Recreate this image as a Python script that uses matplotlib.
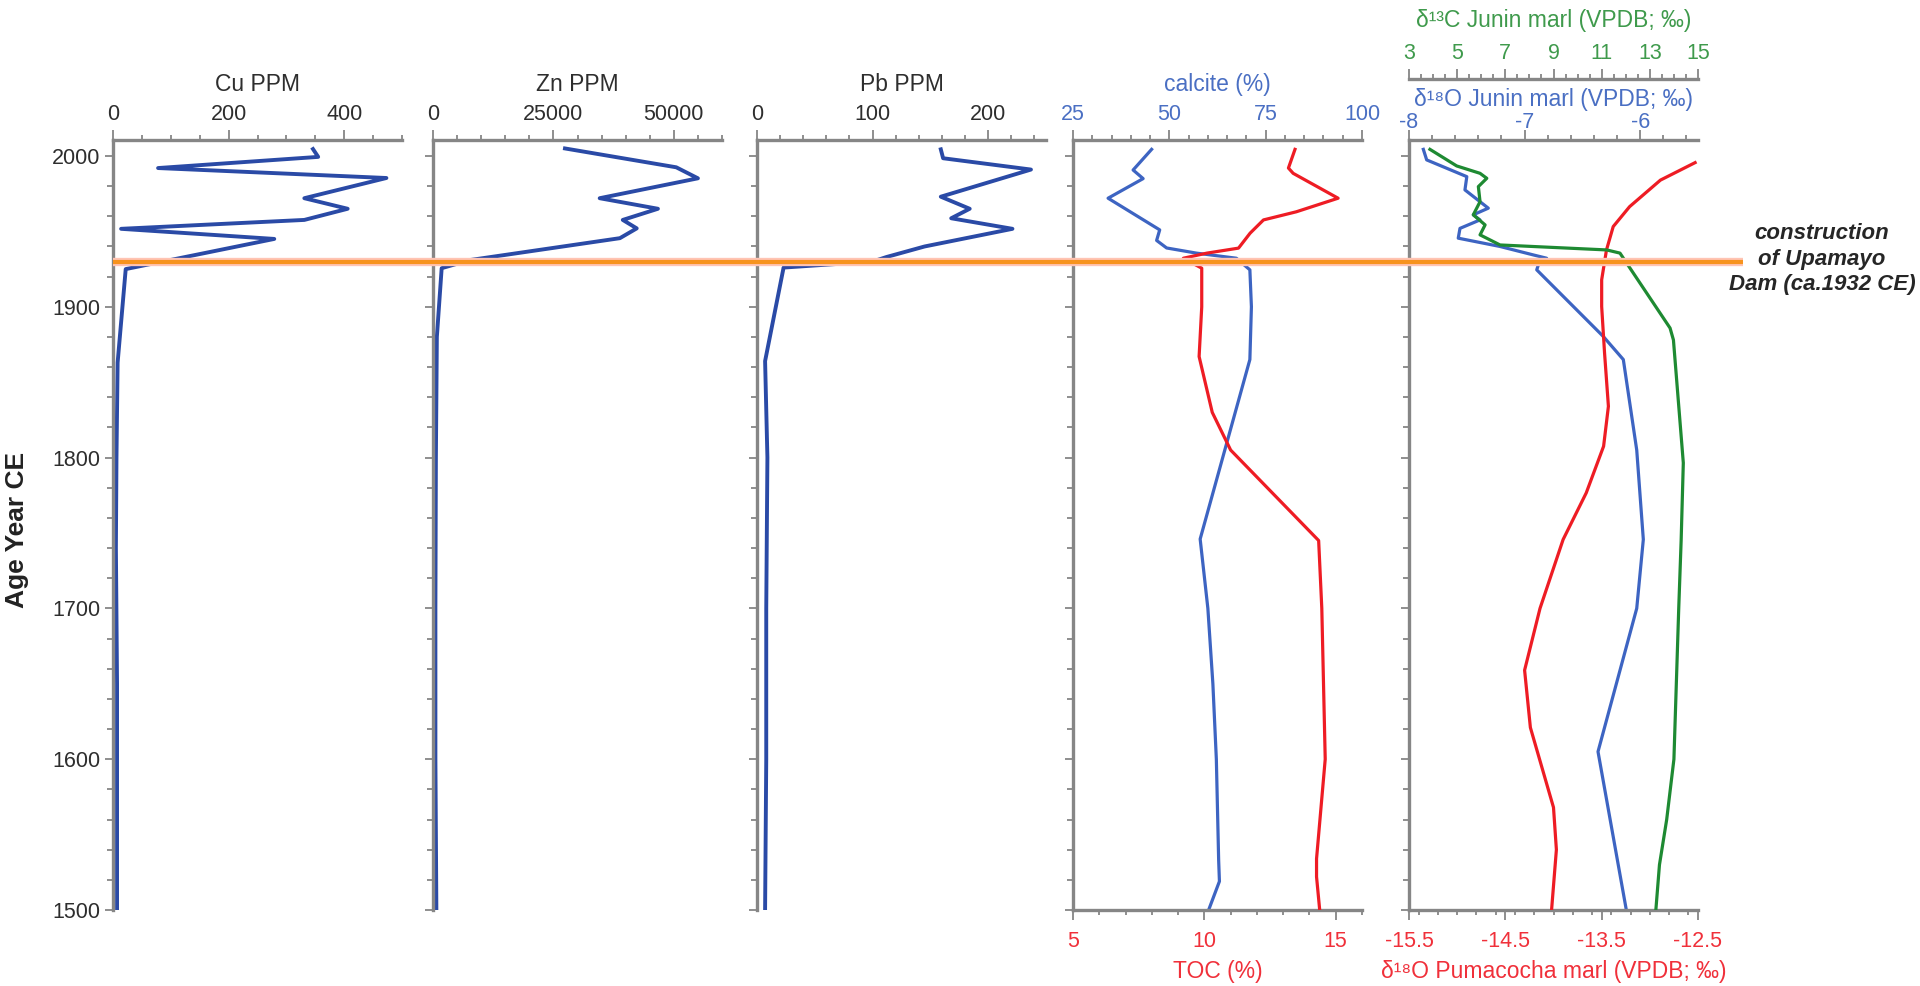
import matplotlib
matplotlib.use('Agg')
import matplotlib.pyplot as plt
from matplotlib.ticker import MultipleLocator, FixedLocator
import matplotlib.transforms as mtransforms
from matplotlib.lines import Line2D

plt.rcParams['font.family'] = ['Liberation Sans', 'DejaVu Sans']
plt.rcParams['axes.unicode_minus'] = False

# ---------------- data ----------------
cu_year = [2004.6, 1999.4, 1992.0, 1985.4, 1972.0, 1965.0, 1957.6, 1951.7, 1945.0,
           1925.0, 1863.0, 1800.0, 1740.0, 1650.0, 1500.0]
cu_ppm = [346, 355, 78, 473, 331, 406, 331, 14, 279, 22, 8, 6, 5, 7, 7]

zn_year = [2005.0, 1992.5, 1985.2, 1972.0, 1965.0, 1957.6, 1952.0, 1945.5, 1931.0,
           1925.6, 1880.0, 1800.0, 1700.0, 1600.0, 1500.0]
zn_ppm = [27400, 50500, 55000, 34600, 46700, 39400, 42300, 38800, 7700,
          1800, 800, 600, 500, 500, 700]

pb_year = [2004.4, 1998.5, 1991.0, 1973.0, 1965.0, 1958.7, 1951.7, 1940.0, 1933.0,
           1930.0, 1926.0, 1864.0, 1800.0, 1700.0, 1600.0, 1500.0]
pb_ppm = [159, 161, 237, 159, 184, 168, 221, 145, 112, 100, 23, 7, 9, 8, 8, 7]

calcite_year = [2004.4, 1990.7, 1985.0, 1972.0, 1951.0, 1944.0, 1939.0, 1935.6, 1932.2,
                1924.5, 1900.0, 1865.0, 1746.0, 1700.0, 1650.0, 1600.0, 1533.0, 1519.0, 1500.0]
calcite_pct = [45.4, 40.6, 43.2, 34.1, 47.5, 46.7, 49.3, 57.0, 67.4,
               70.9, 71.3, 70.9, 58.0, 60.0, 61.3, 62.2, 62.8, 63.0, 60.2]

toc_year = [2004.4, 1992.0, 1988.5, 1972.0, 1963.0, 1957.6, 1948.8, 1938.9, 1935.6,
            1932.2, 1925.6, 1900.0, 1867.0, 1830.0, 1805.0, 1745.0, 1700.0, 1600.0,
            1534.0, 1522.0, 1500.0]
toc_pct = [13.45, 13.2, 13.38, 15.09, 13.5, 12.25, 11.74, 11.3, 10.1,
           9.2, 9.9, 9.9, 9.8, 10.3, 11.0, 14.35, 14.47, 14.6,
           14.27, 14.27, 14.39]

d18o_junin_year = [2004.4, 1997.4, 1986.3, 1977.5, 1965.4, 1961.0, 1957.6, 1952.0, 1945.5,
                   1940.0, 1934.4, 1932.2, 1927.8, 1924.5, 1880.3, 1865.0, 1805.0, 1745.7,
                   1700.0, 1605.0, 1500.0]
d18o_junin = [-7.876, -7.847, -7.50, -7.516, -7.314, -7.444, -7.386, -7.559, -7.574,
              -7.213, -6.925, -6.809, -6.881, -6.895, -6.319, -6.146, -6.03, -5.973,
              -6.03, -6.365, -6.12]

d13c_junin_year = [2004.4, 1993.4, 1988.5, 1985.2, 1979.7, 1969.7, 1961.0, 1954.3, 1947.7,
                   1941.0, 1937.7, 1935.6, 1928.9, 1885.9, 1878.0, 1796.5, 1745.0, 1700.0,
                   1600.0, 1560.0, 1530.0, 1500.0]
d13c_junin = [3.87, 4.98, 5.95, 6.23, 5.88, 5.95, 5.67, 6.16, 5.95,
              6.78, 11.21, 11.76, 12.04, 13.84, 13.98, 14.39, 14.3, 14.2,
              14.0, 13.7, 13.4, 13.25]

d18o_puma_year = [1995.6, 1984.0, 1966.4, 1953.2, 1937.7, 1917.9, 1900.2, 1869.3, 1834.0,
                  1807.5, 1776.6, 1745.7, 1700.0, 1659.0, 1621.0, 1568.0, 1540.0, 1500.0]
d18o_puma = [-12.53, -12.89, -13.21, -13.38, -13.45, -13.5, -13.5, -13.47, -13.43,
             -13.48, -13.66, -13.9, -14.14, -14.3, -14.24, -14.0, -13.97, -14.02]

DAM_YEAR = 1929.5
YEAR_TICKS = [1500, 1600, 1700, 1800, 1900, 2000]
D13C_TICKS = [3, 5, 7, 9, 11, 13, 15]
PUMA_TICKS = [-15.5, -14.5, -13.5, -12.5]

# ---------------- style ----------------
W, H = 1920, 986
SPINE = '#868686'
TXT = '#2e2e2e'
DARKBLUE = '#2a4aa6'
BLUE = '#3d64c2'
BLUE_TXT = '#4a6fc3'
RED = '#ee1c24'
RED_TXT = '#f0303a'
GREEN = '#1e8a32'
GREEN_TXT = '#3f9a4c'
ORANGE = '#f7931e'
TICK_FS = 15.5
TITLE_FS = 16.5
SPW = 2.4

fig = plt.figure(figsize=(W / 100, H / 100), dpi=100)

AX_BOTTOM = (H - 910) / H
AX_HEIGHT = (910 - 140) / H
AX_W = 289 / W


def make_ax(left_px):
    ax = fig.add_axes([left_px / W, AX_BOTTOM, AX_W, AX_HEIGHT])
    ax.set_ylim(1500, 2010.6)
    ax.yaxis.set_major_locator(FixedLocator(YEAR_TICKS))
    ax.yaxis.set_minor_locator(MultipleLocator(20))
    for s in ['right', 'bottom']:
        ax.spines[s].set_visible(False)
    for s in ['left', 'top']:
        ax.spines[s].set_color(SPINE)
        ax.spines[s].set_linewidth(SPW)
    ax.tick_params(axis='y', which='both', direction='out', left=True, right=False,
                   color=SPINE, width=1.3, labelleft=False, labelright=False)
    ax.tick_params(axis='y', which='major', length=6)
    ax.tick_params(axis='y', which='minor', length=4)
    ax.patch.set_alpha(0)
    return ax


def set_top(ax, lim, major, minor, title, txtcolor, labelpad=10, pad=3.5):
    ax.set_xlim(*lim)
    if isinstance(major, list):
        ax.xaxis.set_major_locator(FixedLocator(major))
    else:
        ax.xaxis.set_major_locator(MultipleLocator(major))
    ax.xaxis.set_minor_locator(MultipleLocator(minor))
    ax.xaxis.set_ticks_position('top')
    ax.xaxis.set_label_position('top')
    ax.tick_params(axis='x', which='both', direction='out', top=True, bottom=False,
                   labeltop=True, labelbottom=False, color=SPINE, width=1.3,
                   labelsize=TICK_FS, labelcolor=txtcolor, pad=pad)
    ax.tick_params(axis='x', which='major', length=7)
    ax.tick_params(axis='x', which='minor', length=3.5)
    ax.set_xlabel(title, fontsize=TITLE_FS, color=txtcolor, labelpad=labelpad)


def set_bottom(t, lim, major, minor, title, txtcolor):
    t.set_xlim(*lim)
    for s in ['left', 'right', 'top']:
        t.spines[s].set_visible(False)
    t.spines['bottom'].set_visible(True)
    t.spines['bottom'].set_color(SPINE)
    t.spines['bottom'].set_linewidth(SPW)
    if isinstance(major, list):
        t.xaxis.set_major_locator(FixedLocator(major))
    else:
        t.xaxis.set_major_locator(MultipleLocator(major))
    t.xaxis.set_minor_locator(MultipleLocator(minor))
    t.xaxis.set_ticks_position('bottom')
    t.xaxis.set_label_position('bottom')
    t.tick_params(axis='x', which='both', direction='out', bottom=True, top=False,
                  labelbottom=True, labeltop=False, color=SPINE, width=1.3,
                  labelsize=TICK_FS, labelcolor=txtcolor, pad=8)
    t.tick_params(axis='x', which='major', length=7)
    t.tick_params(axis='x', which='minor', length=3.5)
    t.tick_params(axis='y', which='both', left=False, right=False,
                  labelleft=False, labelright=False)
    t.set_xlabel(title, fontsize=TITLE_FS, color=txtcolor, labelpad=6)


# Panel 1: Cu
ax1 = make_ax(113)
set_top(ax1, (0, 500), 200, 50, 'Cu PPM', TXT)
ax1.tick_params(axis='y', labelleft=True, labelsize=TICK_FS, labelcolor=TXT, pad=3)
ax1.plot(cu_ppm, cu_year, color=DARKBLUE, lw=2.8, solid_joinstyle='round')

# Panel 2: Zn
ax2 = make_ax(433)
set_top(ax2, (0, 60000), 25000, 5000, 'Zn PPM', TXT)
ax2.plot(zn_ppm, zn_year, color=DARKBLUE, lw=2.8, solid_joinstyle='round')

# Panel 3: Pb
ax3 = make_ax(757)
set_top(ax3, (0, 250), 100, 20, 'Pb PPM', TXT)
ax3.plot(pb_ppm, pb_year, color=DARKBLUE, lw=2.8, solid_joinstyle='round')

# Panel 4: calcite (top) and TOC (bottom)
ax4 = make_ax(1073)
ax4t = ax4.twiny()
set_top(ax4, (25, 100), 25, 5, 'calcite (%)', BLUE_TXT)
set_bottom(ax4t, (5, 16), 5, 1, 'TOC (%)', RED_TXT)
ax4.plot(calcite_pct, calcite_year, color=BLUE, lw=2.3, solid_joinstyle='round', zorder=3)
ax4t.plot(toc_pct, toc_year, color=RED, lw=2.3, solid_joinstyle='round', zorder=3)

# Panel 5: d18O Junin (top), d13C Junin (outer top), d18O Pumacocha (bottom)
ax5 = make_ax(1409)
ax5b = ax5.twiny()
ax5c = ax5.twiny()
set_top(ax5, (-8, -5.5), 1, 0.2, 'δ¹⁸O Junin marl (VPDB; ‰)', BLUE_TXT,
        labelpad=4.5, pad=-2)
set_bottom(ax5b, (-15.5, -12.5), PUMA_TICKS, 0.2, 'δ¹⁸O Pumacocha marl (VPDB; ‰)', RED_TXT)

for s in ['left', 'right', 'bottom']:
    ax5c.spines[s].set_visible(False)
ax5c.spines['top'].set_position(('outward', 44))
ax5c.spines['top'].set_color(SPINE)
ax5c.spines['top'].set_linewidth(SPW)
set_top(ax5c, (3, 15), D13C_TICKS, 0.5, 'δ¹³C Junin marl (VPDB; ‰)', GREEN_TXT,
        labelpad=11, pad=4)
ax5c.tick_params(axis='y', which='both', left=False, right=False,
                 labelleft=False, labelright=False)

ax5b.plot(d18o_puma, d18o_puma_year, color=RED, lw=2.3, zorder=3)
ax5.plot(d18o_junin, d18o_junin_year, color=BLUE, lw=2.3, solid_joinstyle='round', zorder=3)
ax5c.plot(d13c_junin, d13c_junin_year, color=GREEN, lw=2.3, solid_joinstyle='round', zorder=3)

# Dam construction line across all panels
trans = mtransforms.blended_transform_factory(fig.transFigure, ax1.transData)
x0, x1 = 113 / W, 1743 / W
halo = Line2D([x0, x1], [DAM_YEAR, DAM_YEAR], transform=trans, color='#ffc4b4',
              lw=6.0, zorder=50, solid_capstyle='butt')
core = Line2D([x0, x1], [DAM_YEAR, DAM_YEAR], transform=trans, color=ORANGE,
              lw=3.0, zorder=51, solid_capstyle='butt')
fig.add_artist(halo)
fig.add_artist(core)

fig.text(1822 / W, (H - 259) / H, 'construction\nof Upamayo\nDam (ca.1932 CE)',
         ha='center', va='center', multialignment='center', fontsize=16,
         fontweight='bold', fontstyle='italic', color='#262626', linespacing=1.28)

fig.text(17 / W, (H - 530) / H, 'Age Year CE', rotation=90, ha='center', va='center',
         fontsize=19, fontweight='bold', color='#222222')

fig.savefig('out.png', dpi=100)
